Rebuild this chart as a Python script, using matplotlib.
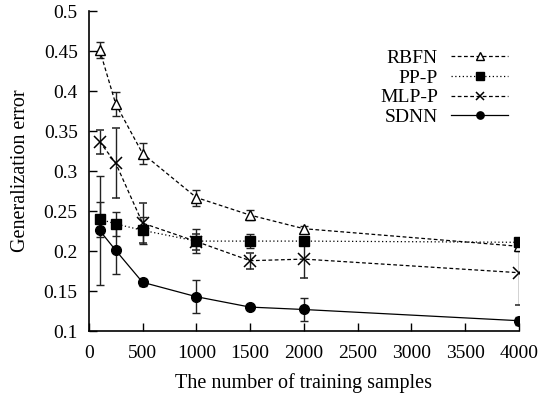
import matplotlib
matplotlib.use("Agg")
import matplotlib.pyplot as plt
from matplotlib.lines import Line2D

plt.rcParams['font.family'] = ['Liberation Serif', 'DejaVu Serif']

samples = [100, 250, 500, 1000, 1500, 2000, 4000]

rbfn = [0.452, 0.384, 0.322, 0.267, 0.245, 0.228, 0.206]
rbfn_err = [0.010, 0.015, 0.013, 0.010, 0.006, 0.004, 0.006]

ppp = [0.240, 0.234, 0.226, 0.2125, 0.2125, 0.2125, 0.211]
ppp_err = [0.022, 0.015, 0.017, 0.015, 0.009, 0.005, 0.005]

mlpp = [0.337, 0.310, 0.235, 0.212, 0.188, 0.190, 0.173]
mlpp_err = [0.015, 0.044, 0.025, 0.010, 0.010, 0.024, 0.040]

sdnn = [0.226, 0.201, 0.161, 0.143, 0.130, 0.127, 0.113]
sdnn_err = [0.068, 0.030, 0.004, 0.021, 0.002, 0.014, 0.005]

labels = ['RBFN', 'PP-P', 'MLP-P', 'SDNN']
x_ticks = [0, 500, 1000, 1500, 2000, 2500, 3000, 3500, 4000]
y_ticks = [0.1, 0.15, 0.2, 0.25, 0.3, 0.35, 0.4, 0.45, 0.5]
y_ticklabels = ['0.1', '0.15', '0.2', '0.25', '0.3', '0.35', '0.4', '0.45', '0.5']

fig = plt.figure(figsize=(5.55, 3.97), dpi=100)
ax = fig.add_axes([0.160, 0.166, 0.775, 0.806])

styles = [
    dict(linestyle=(0, (3, 2)), marker='^', markersize=7, markerfacecolor='white', markeredgecolor='black'),
    dict(linestyle=(0, (1, 2)), marker='s', markersize=7, markerfacecolor='black'),
    dict(linestyle=(0, (3, 2)), marker='x', markersize=8, markeredgewidth=1.1),
    dict(linestyle='-', marker='o', markersize=7, markerfacecolor='black'),
]
series = [rbfn, ppp, mlpp, sdnn]
errs = [rbfn_err, ppp_err, mlpp_err, sdnn_err]

common = dict(color='black', ecolor='#222222', elinewidth=1.0, capsize=3, capthick=1.0, linewidth=0.9)
for vals, err, st in zip(series, errs, styles):
    ax.errorbar(samples, vals, yerr=err, **st, **common)

ax.set_xlim(0, 4000)
ax.set_ylim(0.1, 0.5)
ax.set_xticks(x_ticks)
ax.set_yticks(y_ticks)
ax.set_yticklabels(y_ticklabels)
ax.tick_params(direction='in', length=6, width=1, labelsize=14)
ax.tick_params(axis='x', pad=10)
ax.tick_params(axis='y', pad=8)
ax.spines['top'].set_visible(False)
ax.spines['right'].set_visible(False)
for s in ['left', 'bottom']:
    ax.spines[s].set_linewidth(1.2)

ax.set_xlabel('The number of training samples', fontsize=14.5, labelpad=8)
ax.set_ylabel('Generalization error', fontsize=14.5, labelpad=10)

handles = []
for st, lab in zip(styles, labels):
    hs = dict(st)
    hs['markersize'] = st['markersize'] * 0.75
    handles.append(Line2D([0], [0], color='black', linewidth=0.9, label=lab, **hs))

leg = fig.legend(handles=handles, loc='upper right', bbox_to_anchor=(0.915, 0.875),
                 bbox_transform=fig.transFigure, frameon=False, markerfirst=False,
                 fontsize=14, handlelength=2.9, labelspacing=0.1, handletextpad=0.7,
                 borderpad=0, borderaxespad=0, numpoints=1)
leg._legend_box.align = 'right'
for t in leg.get_texts():
    t.set_ha('right')

fig.savefig('out.png', dpi=100)
